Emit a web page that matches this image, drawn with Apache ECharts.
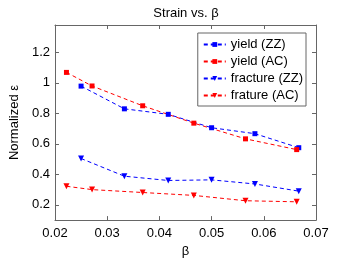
<!DOCTYPE html>
<html><head><meta charset="utf-8">
<script src="https://cdn.jsdelivr.net/npm/echarts@6/dist/echarts.min.js"></script>
<style>html,body{margin:0;padding:0;background:#fff}#c{width:350px;height:263px}</style>
</head><body><div id="c"></div>
<script>
var betaZZ = [0.025, 0.0333, 0.0417, 0.05, 0.0583, 0.0667];
var betaAC = [0.0222, 0.0271, 0.0368, 0.0466, 0.0565, 0.0663];
var yieldZZ = [0.979, 0.83, 0.794, 0.706, 0.667, 0.575];
var yieldAC = [1.069, 0.98, 0.85, 0.736, 0.633, 0.5625];
var fractureZZ = [0.504, 0.388, 0.36, 0.364, 0.337, 0.29];
var fractureAC = [0.322, 0.30, 0.281, 0.262, 0.227, 0.22];
var xTicks = [0.02, 0.03, 0.04, 0.05, 0.06, 0.07];
var yTicks = [0.2, 0.4, 0.6, 0.8, 1, 1.2];
var seriesNames = ['yield (ZZ)', 'yield (AC)', 'fracture (ZZ)', 'frature (AC)'];

function pairs(xs, ys){ return xs.map(function(x,i){ return [x, ys[i]]; }); }
var FONT = 'Liberation Sans';
var axisCol = '#666';
function mkSeries(name, xs, ys, color, sym){
  return {
    name: name, type: 'line', data: pairs(xs, ys),
    symbol: sym, symbolSize: sym === 'rect' ? 5 : 6, symbolRotate: sym === 'triangle' ? 180 : 0,
    showAllSymbol: true,
    lineStyle: {color: color, width: 1, type: [4, 3]},
    itemStyle: {color: color},
    emphasis: {disabled: true},
    animation: false
  };
}
var chart = echarts.init(document.getElementById('c'), null, {renderer: 'canvas'});
var baseX = {
  type: 'value', min: 0.02, max: 0.07,
  axisLine: {show: true, lineStyle: {color: axisCol, width: 1}},
  axisTick: {show: true, inside: true, length: 4, customValues: xTicks, lineStyle: {color: axisCol}},
  splitLine: {show: false}
};
var baseY = {
  type: 'value', min: 0.1, max: 1.38,
  axisLine: {show: true, lineStyle: {color: axisCol, width: 1}},
  axisTick: {show: true, inside: true, length: 4, customValues: yTicks, lineStyle: {color: axisCol}},
  splitLine: {show: false}
};
chart.setOption({
  animation: false,
  backgroundColor: '#fff',
  title: {text: 'Strain vs. β', left: 181, textAlign: 'center', top: 2,
    textStyle: {fontFamily: FONT, fontSize: 13, fontWeight: 'normal', color: '#000'}},
  grid: {left: 45, right: 34, top: 25, bottom: 33, containLabel: false},
  legend: {
    orient: 'vertical', right: 44, top: 33, padding: [4, 3, 3, 5],
    itemWidth: 22, itemHeight: 6, itemGap: 2,
    backgroundColor: '#fff', borderColor: axisCol, borderWidth: 1, borderRadius: 0,
    data: seriesNames,
    textStyle: {fontFamily: FONT, fontSize: 13, color: '#000', lineHeight: 15}
  },
  xAxis: [
    Object.assign({}, baseX, {position: 'bottom', name: 'β', nameLocation: 'middle', nameGap: 23,
      nameTextStyle: {fontFamily: FONT, fontSize: 13, color: '#000'},
      axisLabel: {show: true, customValues: xTicks, fontFamily: FONT, fontSize: 13, color: '#000', margin: 7,
        formatter: function(v){ return v.toFixed(2); }}}),
    Object.assign({}, baseX, {position: 'top', axisLabel: {show: false}})
  ],
  yAxis: [
    Object.assign({}, baseY, {position: 'left', name: 'Normalized ε', nameLocation: 'middle', nameGap: 30,
      nameRotate: 90,
      nameTextStyle: {fontFamily: FONT, fontSize: 13, color: '#000'},
      axisLabel: {show: true, customValues: yTicks, fontFamily: FONT, fontSize: 13, color: '#000', margin: 5,
        formatter: function(v){ return String(Math.round(v*10)/10); }}}),
    Object.assign({}, baseY, {position: 'right', axisLabel: {show: false}})
  ],
  series: [
    mkSeries(seriesNames[0], betaZZ, yieldZZ, '#0000ff', 'rect'),
    mkSeries(seriesNames[1], betaAC, yieldAC, '#ff0000', 'rect'),
    mkSeries(seriesNames[2], betaZZ, fractureZZ, '#0000ff', 'triangle'),
    mkSeries(seriesNames[3], betaAC, fractureAC, '#ff0000', 'triangle')
  ]
});
</script></body></html>
